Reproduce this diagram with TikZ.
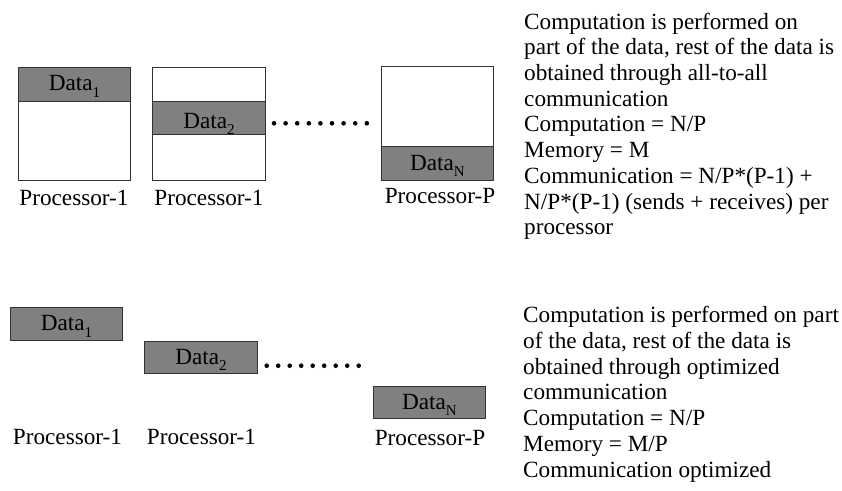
\documentclass[tikz,border=0pt]{standalone}
\usepackage{fontspec}
\setmainfont{Liberation Serif}
% lowered index for the data block labels
\newcommand\lowidx[1]{\raisebox{-0.28em}{\fontsize{15}{15}\selectfont #1}}
\begin{document}
\begin{tikzpicture}[x=1pt,y=-1pt,
  txt/.style={font=\fontsize{23.2}{25.7}\selectfont, inner sep=0pt},
  procbox/.style={draw=black!80, line width=0.8pt, fill=white, inner sep=0pt, anchor=north west},
  band/.style={draw=black!80, line width=0.8pt, fill=black!50, inner sep=0pt, anchor=north west,
               minimum width=112pt, text depth=1.5pt, font=\fontsize{23.2}{25.7}\selectfont},
  dot/.style={circle, fill=black, inner sep=0pt, minimum size=4.6pt}
]
\useasboundingbox (0,0) rectangle (842,490);

% ---- upper scheme: every processor holds the whole memory ----
\node[procbox, minimum width=112pt, minimum height=113.3pt] (p1) at (18,66.7) {};
\node[band, minimum height=34pt] (d1) at (18,66.7) {Data\lowidx{1}};

\node[procbox, minimum width=113pt, minimum height=113.3pt] (p2) at (152,66.7) {};
\node[band, minimum width=113pt, minimum height=33.6pt, text height=21pt, text depth=0pt] (d2) at (152,100.7) {Data\lowidx{2}};

\node[procbox, minimum width=112pt, minimum height=114.3pt] (pn) at (381,65.7) {};
\node[band, minimum height=34.3pt] (dn) at (381,145.7) {Data\lowidx{N}};

\foreach \i in {0,...,8}
  \node[dot] (td\i) at (274+11.6*\i,123.3) {};

\node[txt, anchor=base] (l1) at (74,205) {Processor-1};
\node[txt, anchor=base] (l2) at (209,205) {Processor-1};
\node[txt, anchor=base] (ln) at (440,203) {Processor-P};

\node[txt, anchor=north west, align=left] (desc1) at (524,12.6) {Computation is performed on\\
part of the data, rest of the data is\\
obtained through all-to-all\\
communication\\
Computation = N/P\\
Memory = M\\
Communication = N/P*(P-1) +\\
N/P*(P-1) (sends + receives) per\\
processor};

% ---- lower scheme: memory split across processors ----
\node[band, minimum height=33.3pt] (e1) at (10,306.7) {Data\lowidx{1}};
\node[band, minimum width=113pt, minimum height=32.6pt] (e2) at (144,340.7) {Data\lowidx{2}};
\node[band, minimum height=32.6pt] (en) at (373,385.7) {Data\lowidx{N}};

\foreach \i in {0,...,8}
  \node[dot] (bd\i) at (266.7+11.5*\i,365.7) {};

\node[txt, anchor=base] (m1) at (67.5,444) {Processor-1};
\node[txt, anchor=base] (m2) at (201.5,444) {Processor-1};
\node[txt, anchor=base] (mn) at (430,445) {Processor-P};

\node[txt, anchor=north west, align=left] (desc2) at (523,306.3) {Computation is performed on part\\
of the data, rest of the data is\\
obtained through optimized\\
communication\\
Computation = N/P\\
Memory = M/P\\
Communication optimized};
\end{tikzpicture}
\end{document}
